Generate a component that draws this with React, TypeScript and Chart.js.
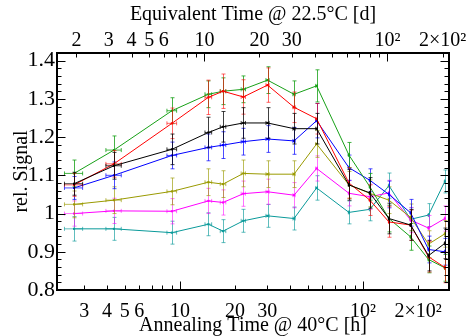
import React, { useEffect, useRef } from "react";
import { Chart, registerables } from "chart.js";
Chart.register(...registerables);

// ---- data (annealing time in hours @ 40°C) ----
const hours = [2.64, 4.36, 9.04, 14.3, 17.2, 22.2, 30.1, 42.0, 55.8, 83.8, 109, 138.6, 182, 228, 280];
const hoursErr = [0.3, 0.42, 0.55, 0.6, 0.6, 0.6, 0.6, 0.6, 0.6, 0.6, 0.6, 0.6, 0.6, 0.6, 0.6];

const greenVals = [1.105, 1.166, 1.269, 1.312, 1.32, 1.325, 1.349, 1.312, 1.334, 1.153, 1.07, 0.987, 0.939, 0.88, 0.858];
const redVals = [1.075, 1.13, 1.236, 1.304, 1.32, 1.305, 1.336, 1.278, 1.248, 1.08, 1.035, 0.978, 0.97, 0.887, 0.859];
const blackVals = [1.078, 1.125, 1.168, 1.212, 1.227, 1.237, 1.237, 1.222, 1.222, 1.075, 1.054, 0.987, 0.97, 0.89, 0.922];
const blueVals = [1.067, 1.1, 1.152, 1.173, 1.179, 1.188, 1.195, 1.19, 1.243, 1.12, 1.087, 1.05, 1.002, 0.906, 0.9];
const oliveVals = [1.024, 1.035, 1.058, 1.082, 1.077, 1.105, 1.103, 1.103, 1.182, 1.075, 1.053, 1.035, 0.99, 0.92, 0.947];
const magentaVals = [1.0, 1.007, 1.006, 1.033, 1.029, 1.052, 1.057, 1.048, 1.118, 1.053, 1.044, 1.054, 0.983, 0.962, 0.987];
const tealVals = [0.96, 0.96, 0.95, 0.972, 0.954, 0.981, 0.994, 0.987, 1.067, 1.003, 1.011, 1.073, 0.985, 0.996, 1.084];

const greenErr = [0.035, 0.037, 0.034, 0.035, 0.035, 0.035, 0.035, 0.035, 0.042, 0.033, 0.035, 0.035, 0.035, 0.035, 0.035];
const redErr = [0.03, 0.035, 0.04, 0.045, 0.045, 0.045, 0.045, 0.04, 0.04, 0.04, 0.04, 0.04, 0.04, 0.04, 0.04];
const blackErr = [0.03, 0.035, 0.04, 0.04, 0.04, 0.04, 0.04, 0.04, 0.04, 0.04, 0.04, 0.04, 0.04, 0.04, 0.04];
const blueErr = [0.03, 0.035, 0.035, 0.035, 0.035, 0.035, 0.035, 0.035, 0.045, 0.033, 0.03, 0.035, 0.035, 0.035, 0.035];
const oliveErr = [0.035, 0.035, 0.035, 0.035, 0.035, 0.035, 0.035, 0.035, 0.035, 0.035, 0.035, 0.035, 0.035, 0.035, 0.035];
const magentaErr = [0.033, 0.033, 0.033, 0.033, 0.033, 0.033, 0.033, 0.033, 0.033, 0.033, 0.033, 0.033, 0.033, 0.033, 0.033];
const tealErr = [0.032, 0.03, 0.03, 0.03, 0.03, 0.03, 0.03, 0.03, 0.032, 0.03, 0.03, 0.033, 0.03, 0.03, 0.03];

const seriesNames = ["black", "red", "green", "blue", "olive", "magenta", "teal"];
const seriesValues = [blackVals, redVals, greenVals, blueVals, oliveVals, magentaVals, tealVals];
const seriesErrors = [blackErr, redErr, greenErr, blueErr, oliveErr, magentaErr, tealErr];
const seriesColors = ["#000000", "#ff0000", "#17a017", "#0000ff", "#9a9a00", "#ff00ff", "#0a9a9a"];
const errColors = ["rgba(0,0,0,0.75)", "rgba(255,0,0,0.6)", "rgba(23,160,23,0.8)", "rgba(0,0,255,0.7)", "rgba(154,154,0,0.65)", "rgba(255,0,255,0.55)", "rgba(10,154,154,0.65)"];

const bottomTickValues = [3, 4, 5, 6, 10, 20, 30, 100, 200];
const bottomTickLabels = ["3", "4", "5", "6", "10", "20", "30", "10²", "2×10²"];
const topTickValues = [2, 3, 4, 5, 6, 10, 20, 30, 100, 200];
const topTickLabels = ["2", "3", "4", "5", "6", "10", "20", "30", "10²", "2×10²"];
const yTickValues = [0.8, 0.9, 1.0, 1.1, 1.2, 1.3, 1.4];
const yTickLabels = ["0.8", "0.9", "1", "1.1", "1.2", "1.3", "1.4"];

const X_MIN = 2.13;
const X_MAX = 295;
const DAY_FACTOR = 1.36; // hours @40°C per day @22.5°C
const Y_MIN = 0.8;
const Y_MAX = 1.42;

const FONT = "'Liberation Serif', 'Times New Roman', serif";

const errorBarPlugin = {
  id: "errorBars",
  beforeDatasetDraw(chart: any, args: any) {
    const i = args.index;
    const meta = args.meta;
    const xs = chart.scales.x;
    const ys = chart.scales.y;
    const ctx = chart.ctx;
    const errs = seriesErrors[i];
    const vals = seriesValues[i];
    ctx.save();
    ctx.beginPath();
    ctx.rect(chart.chartArea.left, chart.chartArea.top, chart.chartArea.right - chart.chartArea.left, chart.chartArea.bottom - chart.chartArea.top);
    ctx.clip();
    ctx.strokeStyle = errColors[i];
    ctx.lineWidth = 1;
    const seg = (x1: number, y1: number, x2: number, y2: number) => {
      ctx.beginPath();
      ctx.moveTo(x1, y1);
      ctx.lineTo(x2, y2);
      ctx.stroke();
    };
    meta.data.forEach((pt: any, j: number) => {
      const px = Math.round(pt.x) + 0.5;
      const py = pt.y;
      const yTop = ys.getPixelForValue(vals[j] + errs[j]);
      const yBot = ys.getPixelForValue(vals[j] - errs[j]);
      const xL = xs.getPixelForValue(hours[j] - hoursErr[j]);
      const xR = xs.getPixelForValue(hours[j] + hoursErr[j]);
      seg(px, yTop, px, yBot);
      seg(px - 2, yTop, px + 2, yTop);
      seg(px - 2, yBot, px + 2, yBot);
      seg(xL, py, xR, py);
      seg(xL, py - 2, xL, py + 2);
      seg(xR, py - 2, xR, py + 2);
    });
    ctx.restore();
  },
};

const frameTicksPlugin = {
  id: "frameTicks",
  afterDraw(chart: any) {
    const ctx = chart.ctx;
    const a = chart.chartArea;
    const xs = chart.scales.x;
    const xt = chart.scales.x2;
    const ys = chart.scales.y;
    ctx.save();
    ctx.strokeStyle = "#000";
    ctx.lineWidth = 1;
    const seg = (x1: number, y1: number, x2: number, y2: number) => {
      ctx.beginPath();
      ctx.moveTo(x1, y1);
      ctx.lineTo(x2, y2);
      ctx.stroke();
    };
    const logTicks = (scale: any, top: boolean) => {
      for (let d = 1; d <= 1000; d *= 10) {
        for (let m = 1; m <= 9; m++) {
          const v = m * d;
          if (v < scale.min || v > scale.max) continue;
          const px = Math.round(scale.getPixelForValue(v)) + 0.5;
          const len = m === 1 ? 8.5 : 4.5;
          if (top) seg(px, a.top, px, a.top + len);
          else seg(px, a.bottom, px, a.bottom - len);
        }
      }
    };
    logTicks(xs, false);
    logTicks(xt, true);
    for (let k = 0; k <= 30; k++) {
      const v = Y_MIN + k * 0.02;
      const major = k % 5 === 0;
      const py = Math.round(ys.getPixelForValue(v)) + 0.5;
      const len = major ? 8.5 : 4.5;
      seg(a.left, py, a.left + len, py);
      seg(a.right, py, a.right - len, py);
    }
    ctx.lineWidth = 2;
    ctx.strokeRect(a.left, a.top, a.right - a.left, a.bottom - a.top);
    ctx.restore();
  },
};

export default function App() {
  const ref = useRef<HTMLCanvasElement | null>(null);
  useEffect(() => {
    if (!ref.current) return;
    const datasets = seriesValues.map((vals, i) => ({
      label: seriesNames[i],
      data: vals.map((v, j) => ({ x: hours[j], y: v })),
      borderColor: seriesColors[i],
      backgroundColor: seriesColors[i],
      borderWidth: 1,
      pointRadius: 1.5,
      pointStyle: "rect",
      pointBorderWidth: 0,
      pointBackgroundColor: seriesColors[i],
      fill: false,
      tension: 0,
    }));
    const chart = new Chart(ref.current, {
      type: "line",
      data: { datasets },
      plugins: [errorBarPlugin, frameTicksPlugin],
      options: {
        animation: false,
        responsive: false,
        devicePixelRatio: 1,
        layout: { padding: { left: 0, right: 20, top: 0, bottom: 0 } },
        plugins: { legend: { display: false }, tooltip: { enabled: false } },
        scales: {
          x: {
            type: "logarithmic",
            position: "bottom",
            min: X_MIN,
            max: X_MAX,
            bounds: "data",
            grid: { display: false, drawTicks: false },
            border: { display: false },
            afterBuildTicks: (s: any) => {
              s.ticks = bottomTickValues.map((v) => ({ value: v }));
            },
            afterFit: (s: any) => {
              s.height = 46;
            },
            ticks: {
              autoSkip: false,
              maxRotation: 0,
              minRotation: 0,
              padding: 9.5,
              color: "#000",
              font: { family: FONT, size: 20 },
              callback: (_v: any, i: number) => bottomTickLabels[i],
            },
            title: {
              display: true,
              text: "Annealing Time @ 40°C [h]",
              color: "#000",
              font: { family: FONT, size: 20, lineHeight: 1 },
              padding: { top: 0, bottom: 0 },
            },
          },
          x2: {
            type: "logarithmic",
            position: "top",
            min: X_MIN / DAY_FACTOR,
            max: X_MAX / DAY_FACTOR,
            bounds: "data",
            grid: { display: false, drawTicks: false },
            border: { display: false },
            afterBuildTicks: (s: any) => {
              s.ticks = topTickValues.map((v) => ({ value: v }));
            },
            afterFit: (s: any) => {
              s.height = 53;
            },
            ticks: {
              autoSkip: false,
              maxRotation: 0,
              minRotation: 0,
              padding: 0,
              color: "#000",
              font: { family: FONT, size: 20 },
              callback: (_v: any, i: number) => topTickLabels[i],
            },
            title: {
              display: true,
              text: "Equivalent Time @ 22.5°C [d]",
              color: "#000",
              font: { family: FONT, size: 20, lineHeight: 1 },
              padding: { top: 5, bottom: 0 },
            },
          },
          y: {
            type: "linear",
            position: "left",
            min: Y_MIN,
            max: Y_MAX,
            grid: { display: false, drawTicks: false },
            border: { display: false },
            afterBuildTicks: (s: any) => {
              s.ticks = yTickValues.map((v) => ({ value: v }));
            },
            afterFit: (s: any) => {
              s.width = 57;
            },
            ticks: {
              autoSkip: false,
              padding: 2,
              color: "#000",
              font: { family: FONT, size: 22 },
              callback: (_v: any, i: number) => yTickLabels[i],
            },
            title: {
              display: true,
              text: "rel. Signal",
              color: "#000",
              font: { family: FONT, size: 20, lineHeight: 1 },
              padding: { top: 12, bottom: 0 },
            },
          },
        },
      } as any,
    });
    return () => chart.destroy();
  }, []);
  return (
    <div style={{ position: "absolute", left: 0, top: 0, width: 469, height: 336, background: "#fff" }}>
      <canvas ref={ref} width={469} height={336} style={{ display: "block" }} />
    </div>
  );
}
